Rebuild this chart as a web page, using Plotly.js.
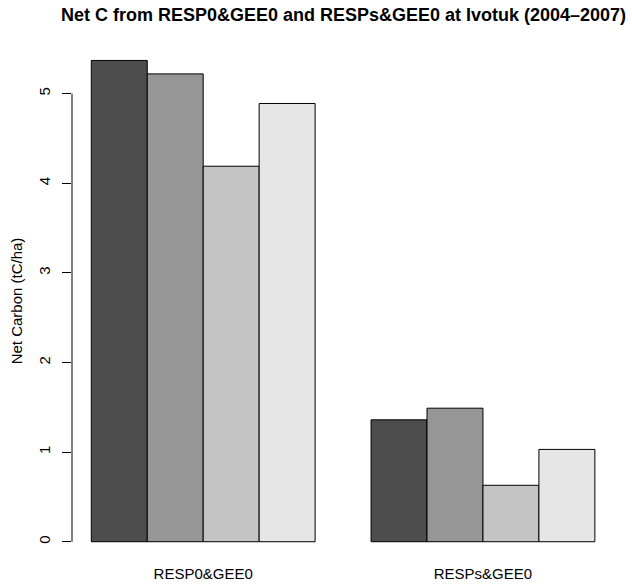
<!DOCTYPE html>
<html>
<head>
<meta charset="utf-8">
<script src="https://cdn.plot.ly/plotly-3.0.1.min.js"></script>
<style>
  html, body { margin: 0; padding: 0; background: #ffffff; }
  #chart { width: 632px; height: 584px; }
</style>
</head>
<body>
<div id="chart"></div>
<script>
// Net carbon per scenario, one bar per year
const scenarios = ['RESP0&GEE0', 'RESPs&GEE0'];
const years = ['2004', '2005', '2006', '2007'];
const net2004 = [5.37, 1.36];
const net2005 = [5.22, 1.49];
const net2006 = [4.19, 0.63];
const net2007 = [4.89, 1.03];
const barColors = ['#4D4D4D', '#969696', '#C4C4C4', '#E6E6E6'];
const yTicks = [0, 1, 2, 3, 4, 5];

const seriesValues = [net2004, net2005, net2006, net2007];

const traces = seriesValues.map((vals, i) => ({
  type: 'bar',
  name: years[i],
  x: scenarios,
  y: vals,
  marker: { color: barColors[i], line: { color: '#000000', width: 1 } },
  hoverinfo: 'x+y'
}));

const fontFamily = '"Liberation Sans", Arial, Helvetica, sans-serif';

const layout = {
  width: 632,
  height: 584,
  paper_bgcolor: '#ffffff',
  plot_bgcolor: '#ffffff',
  showlegend: false,
  barmode: 'group',
  bargap: 0.2,
  bargroupgap: 0,
  margin: { l: 72, r: 17, t: 41, b: 23, pad: 0 },
  font: { family: fontFamily, color: '#000000', size: 15 },
  title: {
    text: '<b>Net C from RESP0&GEE0 and RESPs&GEE0 at Ivotuk (2004\u20132007)</b>',
    font: { family: fontFamily, size: 18, color: '#000000' },
    x: 0.5, xref: 'paper', xanchor: 'center',
    y: 28, yref: 'container', yanchor: 'bottom'
  },
  xaxis: {
    type: 'category',
    range: [-0.469, 1.472],
    showgrid: false, zeroline: false, showline: false,
    ticks: '', ticklen: 0,
    ticklabelstandoff: 2,
    tickfont: { family: fontFamily, size: 15, color: '#000000' },
    automargin: false
  },
  yaxis: {
    range: [-0.215, 5.587],
    showgrid: false, zeroline: false, showline: false,
    tickvals: yTicks,
    ticktext: yTicks.map(String),
    ticks: 'outside', ticklen: 9, tickwidth: 1, tickcolor: '#000000',
    tickangle: -90,
    ticklabelstandoff: 6,
    tickfont: { family: fontFamily, size: 15, color: '#000000' },
    title: {
      text: 'Net Carbon (tC/ha)',
      font: { family: fontFamily, size: 15, color: '#000000' },
      standoff: 9
    },
    automargin: false
  },
  shapes: [{
    type: 'line', xref: 'paper', yref: 'y',
    x0: 0, x1: 0, y0: yTicks[0], y1: yTicks[yTicks.length - 1],
    line: { color: '#000000', width: 1 }
  }]
};

Plotly.newPlot('chart', traces, layout, { displayModeBar: false, staticPlot: true });
</script>
</body>
</html>
